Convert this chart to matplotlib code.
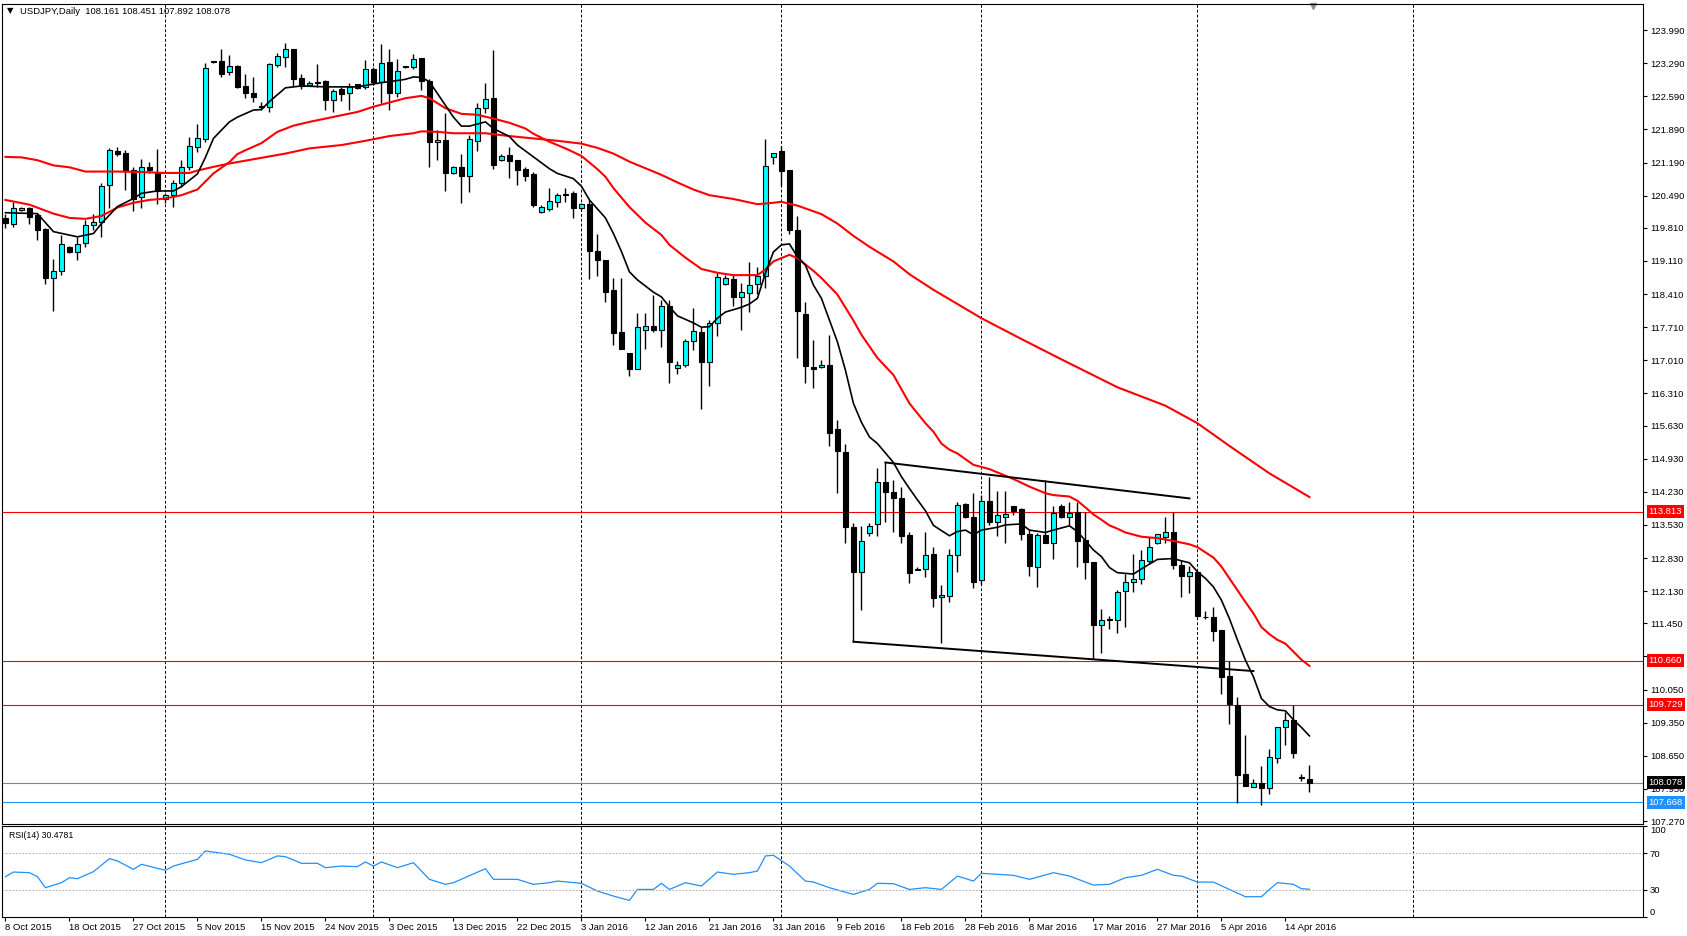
import numpy as np
import matplotlib.pyplot as plt

plt.rcParams['font.family'] = ['Liberation Sans', 'DejaVu Sans']

# USDJPY daily bars, 8 Oct 2015 .. 18 Apr 2016 (broker feed has Sunday bars)
opens = [120.01, 119.90, 120.18, 120.22, 120.08, 119.78, 118.76, 118.89, 119.41, 119.30,
         119.48, 119.87, 119.94, 120.71, 121.43, 121.39, 121.04, 120.47, 121.09, 120.97,
         120.43, 120.50, 120.75, 121.09, 121.52, 121.69, 123.32, 123.33, 123.10, 123.23,
         122.81, 122.67, 122.38, 122.37, 123.26, 123.43, 123.59, 122.97, 122.84, 122.88,
         122.91, 122.51, 122.74, 122.65, 122.85, 122.78, 123.16, 122.90, 123.31, 122.67,
         123.21, 123.20, 123.39, 122.91, 121.62, 121.66, 120.96, 121.09, 120.91, 121.65,
         122.34, 122.55, 121.24, 121.35, 121.24, 121.05, 120.95, 120.15, 120.21, 120.36,
         120.51, 120.54, 120.22, 120.31, 119.31, 119.14, 118.50, 117.60, 117.16, 116.82,
         117.66, 117.73, 117.64, 118.16, 116.84, 116.92, 117.42, 117.61, 116.97, 117.79,
         118.62, 118.72, 118.34, 118.44, 118.62, 118.79, 121.30, 121.43, 121.03, 119.76,
         117.98, 116.86, 116.86, 116.92, 115.55, 115.08, 113.49, 112.54, 113.35, 113.54,
         114.44, 114.23, 114.09, 113.32, 112.58, 112.59, 112.91, 112.00, 112.03, 112.90,
         113.97, 113.69, 112.37, 114.04, 113.60, 113.70, 113.92, 113.86, 113.34, 112.65,
         113.32, 113.14, 113.93, 113.69, 113.81, 113.21, 112.75, 111.41, 111.52, 111.53,
         112.13, 112.32, 112.38, 112.77, 113.15, 113.28, 113.39, 112.68, 112.44, 112.54,
         111.59, 111.59, 111.31, 110.34, 109.72, 108.26, 107.99, 108.07, 107.96, 108.60,
         109.26, 109.40, 108.19, 108.161]
highs = [120.10, 120.36, 120.24, 120.26, 120.10, 119.80, 119.16, 119.66, 119.43, 119.61,
         119.97, 120.11, 120.76, 121.49, 121.51, 121.45, 121.10, 121.26, 121.21, 121.47,
         120.54, 120.82, 121.24, 121.73, 122.00, 123.29, 123.34, 123.60, 123.46, 123.25,
         123.07, 122.99, 122.47, 123.29, 123.50, 123.71, 123.60, 123.06, 122.92, 123.27,
         122.93, 122.75, 122.78, 122.88, 122.86, 123.36, 123.21, 123.69, 123.59, 123.37,
         123.23, 123.48, 123.39, 122.95, 121.88, 122.23, 121.12, 121.37, 121.77, 122.44,
         122.88, 123.56, 121.37, 121.51, 121.24, 121.09, 120.98, 120.29, 120.66, 120.54,
         120.66, 120.59, 120.34, 120.40, 119.69, 119.14, 118.76, 118.76, 117.16, 118.02,
         118.02, 118.40, 118.28, 118.28, 116.99, 117.45, 118.11, 117.72, 117.86, 118.85,
         118.81, 118.81, 118.64, 119.08, 118.99, 121.68, 121.40, 121.53, 121.03, 120.06,
         118.24, 117.44, 117.02, 117.54, 115.75, 115.25, 113.56, 113.51, 113.58, 114.73,
         114.85, 114.48, 114.34, 113.39, 112.63, 113.39, 113.06, 112.25, 113.01, 114.01,
         113.99, 114.20, 114.16, 114.54, 114.25, 114.25, 113.92, 113.88, 113.44, 113.35,
         114.47, 113.92, 113.97, 114.02, 114.02, 113.81, 112.75, 111.75, 111.60, 112.15,
         112.49, 112.92, 113.00, 113.28, 113.34, 113.70, 113.81, 112.79, 112.66, 112.54,
         111.72, 111.79, 111.31, 110.66, 109.90, 109.09, 108.15, 108.43, 108.79, 109.26,
         109.58, 109.72, 108.27, 108.451]
lows = [119.80, 119.83, 120.17, 119.90, 119.55, 118.63, 118.06, 118.81, 119.28, 119.13,
        119.41, 119.76, 119.62, 120.22, 121.33, 120.61, 120.17, 120.22, 120.96, 120.31,
        120.34, 120.26, 120.68, 121.04, 121.42, 121.63, 123.30, 122.99, 123.04, 122.76,
        122.55, 122.47, 122.30, 122.25, 123.20, 123.21, 122.79, 122.74, 122.81, 122.79,
        122.30, 122.26, 122.50, 122.30, 122.74, 122.74, 122.83, 122.45, 122.31, 122.58,
        123.19, 123.16, 122.72, 121.09, 121.24, 120.59, 120.94, 120.34, 120.57, 121.44,
        122.23, 121.05, 121.23, 120.87, 120.71, 120.81, 120.26, 120.13, 120.17, 120.24,
        120.35, 120.01, 120.19, 118.72, 118.80, 118.25, 117.33, 117.24, 116.68, 116.82,
        117.24, 117.61, 117.30, 116.52, 116.72, 116.86, 117.23, 115.99, 116.47, 117.53,
        118.60, 118.16, 117.66, 118.04, 118.41, 118.53, 121.17, 120.69, 119.69, 117.05,
        116.52, 116.42, 116.84, 115.20, 114.21, 113.14, 111.06, 111.73, 113.30, 113.30,
        113.60, 113.39, 113.14, 112.31, 112.58, 112.42, 111.79, 111.04, 111.89, 112.54,
        113.67, 112.19, 112.29, 113.53, 113.30, 113.15, 113.74, 113.21, 112.44, 112.22,
        113.14, 112.80, 113.67, 113.53, 112.63, 112.38, 110.69, 110.83, 111.32, 111.25,
        111.38, 112.12, 112.28, 112.73, 113.13, 113.15, 112.59, 112.01, 112.10, 111.59,
        111.55, 111.08, 109.96, 109.33, 107.66, 108.01, 107.99, 107.61, 107.84, 108.49,
        108.88, 108.60, 108.12, 107.892]
closes = [119.92, 120.22, 120.22, 120.04, 119.76, 118.75, 118.89, 119.46, 119.30, 119.46,
          119.86, 119.94, 120.69, 121.45, 121.38, 121.04, 120.43, 121.09, 121.03, 120.59,
          120.50, 120.75, 121.09, 121.53, 121.70, 123.18, 123.33, 123.07, 123.23, 122.79,
          122.65, 122.58, 122.37, 123.27, 123.44, 123.59, 122.95, 122.81, 122.88, 122.88,
          122.51, 122.71, 122.63, 122.79, 122.76, 123.16, 122.90, 123.29, 122.67, 123.12,
          123.21, 123.37, 122.91, 121.63, 121.66, 120.96, 121.09, 120.91, 121.68, 122.34,
          122.53, 121.14, 121.33, 121.23, 121.03, 120.91, 120.29, 120.25, 120.37, 120.50,
          120.51, 120.22, 120.31, 119.31, 119.12, 118.46, 117.59, 117.24, 116.82, 117.71,
          117.74, 117.64, 118.16, 116.98, 116.91, 117.42, 117.62, 116.98, 117.79, 118.78,
          118.74, 118.34, 118.45, 118.60, 118.79, 121.12, 121.40, 121.02, 119.76, 118.06,
          116.88, 116.82, 116.92, 115.48, 115.10, 113.49, 112.54, 113.20, 113.51, 114.44,
          114.22, 114.09, 113.30, 112.51, 112.58, 112.90, 111.98, 112.05, 112.90, 113.96,
          113.69, 112.33, 114.04, 113.60, 113.73, 113.77, 113.83, 113.34, 112.66, 113.31,
          113.14, 113.79, 113.69, 113.79, 113.20, 112.75, 111.41, 111.53, 111.52, 112.12,
          112.32, 112.38, 112.79, 113.06, 113.33, 113.39, 112.68, 112.44, 112.53, 111.60,
          111.58, 111.29, 110.32, 109.74, 108.24, 108.01, 108.07, 107.96, 108.62, 109.26,
          109.40, 108.70, 108.19, 108.078]

# moving averages: bar index -> value
ma_black_bar = [0, 4, 6, 9, 11, 12, 14, 16, 17, 19, 21, 22, 24, 25, 26, 28, 29, 31, 32, 33,
                35, 37, 40, 42, 44, 46, 47, 48, 50, 51, 52, 53, 54, 56, 57, 58, 60, 61, 63, 64,
                66, 68, 69, 71, 72, 73, 75, 76, 77, 78, 79, 81, 82, 83, 84, 86, 87, 88, 89, 90,
                92, 93, 94, 95, 96, 97, 98, 99, 100, 101, 102, 103, 104, 105, 106, 107, 108, 109,
                111, 112, 113, 114, 115, 116, 118, 119, 120, 121, 122, 124, 125, 127, 128, 130,
                131, 133, 134, 136, 137, 138, 139, 141, 142, 144, 146, 147, 148, 149, 150, 151,
                152, 153, 154, 155, 156, 157, 158, 159, 160, 161, 162, 163]
ma_black = [120.13, 120.11, 119.73, 119.62, 119.69, 119.90, 120.26, 120.43, 120.54, 120.59,
            120.59, 120.68, 120.95, 121.30, 121.70, 122.05, 122.15, 122.30, 122.31, 122.48,
            122.77, 122.81, 122.79, 122.79, 122.79, 122.85, 122.88, 122.90, 122.95, 123.00,
            122.99, 122.90, 122.65, 122.15, 121.96, 121.96, 122.05, 121.91, 121.74, 121.56,
            121.31, 121.06, 120.96, 120.85, 120.69, 120.40, 120.02, 119.69, 119.31, 118.88,
            118.71, 118.45, 118.35, 118.14, 117.95, 117.80, 117.71, 117.72, 117.90, 118.03,
            118.13, 118.20, 118.32, 118.85, 119.30, 119.45, 119.47, 119.20, 119.02, 118.60,
            118.32, 117.86, 117.40, 116.80, 116.10, 115.70, 115.39, 115.25, 114.85, 114.55,
            114.30, 114.06, 113.83, 113.52, 113.30, 113.39, 113.42, 113.32, 113.42, 113.48,
            113.53, 113.55, 113.42, 113.37, 113.42, 113.51, 113.39, 113.00, 112.86, 112.63,
            112.52, 112.49, 112.60, 112.80, 112.82, 112.77, 112.73, 112.54, 112.40, 112.22,
            111.94, 111.55, 111.10, 110.67, 110.32, 109.86, 109.69, 109.62, 109.60, 109.41,
            109.25, 109.07]
ma_fast_bar = [0, 3, 6, 8, 10, 12, 14, 16, 18, 20, 22, 24, 26, 28, 29, 30, 32, 34, 36, 38,
               40, 42, 44, 46, 48, 50, 52, 53, 55, 57, 59, 61, 63, 65, 66, 68, 70, 72, 74, 75,
               76, 78, 80, 82, 83, 85, 87, 89, 91, 94, 95, 96, 98, 99, 101, 102, 104, 106, 107,
               109, 111, 112, 113, 115, 116, 117, 118, 119, 120, 121, 123, 125, 126, 128, 130,
               131, 133, 134, 135, 136, 137, 138, 139, 140, 142, 144, 146, 148, 149, 150, 151,
               152, 153, 154, 155, 156, 157, 158, 159, 160, 161, 162, 163]
ma_fast = [120.40, 120.30, 120.11, 120.02, 120.00, 120.06, 120.24, 120.34, 120.40, 120.43,
           120.50, 120.62, 120.96, 121.20, 121.37, 121.45, 121.60, 121.84, 121.97, 122.05,
           122.12, 122.19, 122.26, 122.37, 122.46, 122.55, 122.60, 122.55, 122.34, 122.22,
           122.20, 122.12, 122.03, 121.91, 121.80, 121.63, 121.49, 121.33, 121.05, 120.89,
           120.65, 120.25, 119.92, 119.66, 119.45, 119.18, 118.94, 118.86, 118.81, 118.81,
           118.93, 119.10, 119.24, 119.17, 118.90, 118.75, 118.40, 117.85, 117.55, 117.06,
           116.70, 116.40, 116.10, 115.68, 115.50, 115.25, 115.12, 115.04, 114.92, 114.80,
           114.71, 114.57, 114.50, 114.34, 114.20, 114.16, 114.13, 114.04, 113.90, 113.75,
           113.64, 113.52, 113.45, 113.37, 113.28, 113.25, 113.19, 113.12, 113.06, 112.95,
           112.84, 112.65, 112.40, 112.15, 111.90, 111.66, 111.37, 111.22, 111.10, 111.02,
           110.85, 110.68, 110.55]
ma_slow_bar = [0, 2, 4, 6, 8, 10, 14, 17, 20, 23, 24, 26, 28, 30, 32, 35, 38, 42, 45, 48,
               51, 52, 54, 56, 60, 63, 66, 69, 72, 74, 76, 78, 81, 82, 84, 86, 88, 91, 94, 96,
               97, 99, 102, 104, 106, 108, 111, 113, 116, 122, 127, 132, 139, 145, 149, 153,
               158, 163]
ma_slow = [121.31, 121.30, 121.24, 121.13, 121.09, 121.00, 121.00, 120.99, 120.97, 120.97,
           121.02, 121.10, 121.17, 121.23, 121.29, 121.38, 121.49, 121.56, 121.65, 121.75,
           121.81, 121.85, 121.84, 121.81, 121.81, 121.75, 121.70, 121.65, 121.59, 121.50,
           121.38, 121.21, 121.00, 120.93, 120.77, 120.62, 120.50, 120.42, 120.31, 120.34,
           120.36, 120.28, 120.10, 119.90, 119.64, 119.41, 119.10, 118.83, 118.50, 117.90,
           117.46, 117.03, 116.44, 116.05, 115.68, 115.20, 114.62, 114.12]

# RSI(14)
rsi_bar = [0, 1, 3, 4, 5, 7, 8, 9, 11, 13, 14, 16, 17, 20, 21, 24, 25, 28, 30, 32,
           34, 35, 37, 39, 40, 42, 44, 45, 46, 47, 49, 51, 53, 55, 56, 60, 61, 64, 66, 68,
           69, 72, 74, 76, 78, 79, 81, 82, 83, 85, 87, 89, 91, 93, 94, 95, 96, 98, 100, 101,
           103, 106, 108, 109, 111, 113, 115, 117, 119, 121, 122, 124, 126, 128, 131, 133,
           136, 138, 140, 142, 144, 146, 147, 149, 151, 153, 155, 157, 158, 159, 161, 162, 163]
rsi = [44.3, 49.4, 48.7, 44.3, 32.2, 37.7, 43.2, 42.1, 49.8, 64.1, 61.6, 52.4, 57.9, 51.3,
       56.0, 63.4, 72.6, 68.9, 62.7, 59.7, 67.1, 66.3, 59.0, 59.0, 54.2, 56.0, 55.3, 60.5,
       56.0, 60.5, 54.2, 59.7, 41.4, 35.9, 37.7, 53.1, 41.4, 41.4, 35.9, 37.7, 39.5, 37.0,
       28.5, 23.0, 18.2, 30.3, 30.3, 37.0, 30.3, 37.7, 34.0, 49.4, 46.9, 48.7, 50.5, 67.1,
       67.8, 56.0, 39.5, 38.4, 32.2, 24.8, 30.3, 37.0, 36.6, 30.3, 32.2, 30.3, 45.0, 39.5,
       48.0, 46.9, 45.8, 41.4, 48.7, 45.0, 35.1, 35.9, 43.2, 45.8, 52.4, 45.8, 45.0, 38.4,
       38.4, 30.3, 22.3, 22.3, 30.3, 37.7, 35.9, 31.1, 30.48]

# drawn objects
trend_upper = [(110, 114.85), (148, 114.09)]
trend_lower = [(106, 111.06), (156, 110.44)]
red_levels = [113.813, 110.660, 109.729]
bid = 108.078
blue_level = 107.668
month_bars = [20, 46, 72, 97, 122, 149, 176]

price_ticks = [123.990, 123.290, 122.590, 121.890, 121.190, 120.490, 119.810, 119.110,
               118.410, 117.710, 117.010, 116.310, 115.630, 114.930, 114.230, 113.530,
               112.830, 112.130, 111.450, 110.750, 110.050, 109.350, 108.650, 107.950, 107.270]
date_labels = ['8 Oct 2015', '18 Oct 2015', '27 Oct 2015', '5 Nov 2015', '15 Nov 2015',
               '24 Nov 2015', '3 Dec 2015', '13 Dec 2015', '22 Dec 2015', '3 Jan 2016',
               '12 Jan 2016', '21 Jan 2016', '31 Jan 2016', '9 Feb 2016', '18 Feb 2016',
               '28 Feb 2016', '8 Mar 2016', '17 Mar 2016', '27 Mar 2016', '5 Apr 2016',
               '14 Apr 2016']
date_bars = list(range(0, 8 * len(date_labels), 8))

W, H = 1687, 936
fs = 6.8
up_color = '#00FFFF'


def frame(left, top, right, bottom):
    return [left / W, 1 - bottom / H, (right - left) / W, (bottom - top) / H]


fig = plt.figure(figsize=(W / 100, H / 100), dpi=100)
ax = fig.add_axes(frame(2, 4, 1643, 824))
rax = fig.add_axes(frame(2, 826, 1643, 917))
xlim = (-0.43, 204.7)

# candles
o, h, l, c = (np.array(v) for v in (opens, highs, lows, closes))
x = np.arange(len(c))
up = c >= o
ax.vlines(x, l, h, color='black', lw=1, zorder=3)
ax.bar(x, np.maximum(np.abs(c - o), 0.012), bottom=np.minimum(o, c), width=0.62,
       color=np.where(up, up_color, 'black'), edgecolor='black', linewidth=0.8, zorder=3)

for b in month_bars:
    ax.axvline(b, color='black', lw=0.7, ls=(0, (3, 2)), zorder=1)
    rax.axvline(b, color='black', lw=0.7, ls=(0, (3, 2)), zorder=1)

for p in red_levels:
    ax.axhline(p, color='red', lw=0.8, zorder=2)
ax.axhline(bid, color='#778899', lw=0.8, zorder=2)
ax.axhline(blue_level, color='#1E90FF', lw=0.8, zorder=2)

ax.plot(ma_slow_bar, ma_slow, color='red', lw=1.5, zorder=4)
ax.plot(ma_fast_bar, ma_fast, color='red', lw=1.5, zorder=4)
ax.plot(ma_black_bar, ma_black, color='black', lw=1.2, zorder=4)
for seg in (trend_upper, trend_lower):
    ax.plot([seg[0][0], seg[1][0]], [seg[0][1], seg[1][1]], color='black', lw=1.4, zorder=4)

ax.set_xlim(xlim)
ax.set_ylim(107.207, 124.542)
ax.set_xticks([])
ax.yaxis.tick_right()
ax.set_yticks(price_ticks)
ax.set_yticklabels([f'{v:.3f}' for v in price_ticks])
ax.tick_params(axis='y', length=3, width=0.8, labelsize=fs, pad=2)

# price tags on the scale
tags = [(p, f'{p:.3f}', 'red') for p in red_levels]
tags += [(bid, f'{bid:.3f}', 'black'), (blue_level, f'{blue_level:.3f}', '#1E90FF')]
for p, txt, col in tags:
    ax.annotate(txt, xy=(1, p), xycoords=ax.get_yaxis_transform(), xytext=(4, 0),
                textcoords='offset points', ha='left', va='center', fontsize=fs,
                color='white', annotation_clip=False, zorder=10,
                bbox=dict(boxstyle='square,pad=0.2', fc=col, ec='none'))

ax.plot([163.5], [0.997], marker='v', ms=5, color='#909090',
        transform=ax.get_xaxis_transform(), clip_on=False)
fig.text(7 / W, 1 - 11 / H, '\u25bc', fontsize=6, va='center', family='DejaVu Sans')
fig.text(20 / W, 1 - 11 / H, 'USDJPY,Daily  108.161 108.451 107.892 108.078',
         fontsize=fs, va='center')

# RSI window
rax.plot(rsi_bar, rsi, color='#1E90FF', lw=0.9)
for lvl in (70, 30):
    rax.axhline(lvl, color='#B0B0B0', lw=0.8, ls=(0, (1.5, 1.5)))
rax.set_xlim(xlim)
rax.set_ylim(0, 100)
rax.yaxis.tick_right()
rax.set_yticks([0, 30, 70, 100])
rax.set_yticklabels(['0', '30', '70', '100'])
rax.tick_params(axis='y', length=3, width=0.8, labelsize=fs, pad=2)
lbls = rax.get_yticklabels()
lbls[0].set_va('bottom')
lbls[3].set_va('top')
rax.set_xticks(date_bars)
rax.set_xticklabels(date_labels, ha='left')
rax.tick_params(axis='x', length=3, width=0.8, labelsize=fs, pad=1)
rax.text(0.004, 0.9, 'RSI(14) 30.4781', transform=rax.transAxes, fontsize=fs - 0.5,
         va='center', ha='left')

fig.savefig('out.png', dpi=100)
